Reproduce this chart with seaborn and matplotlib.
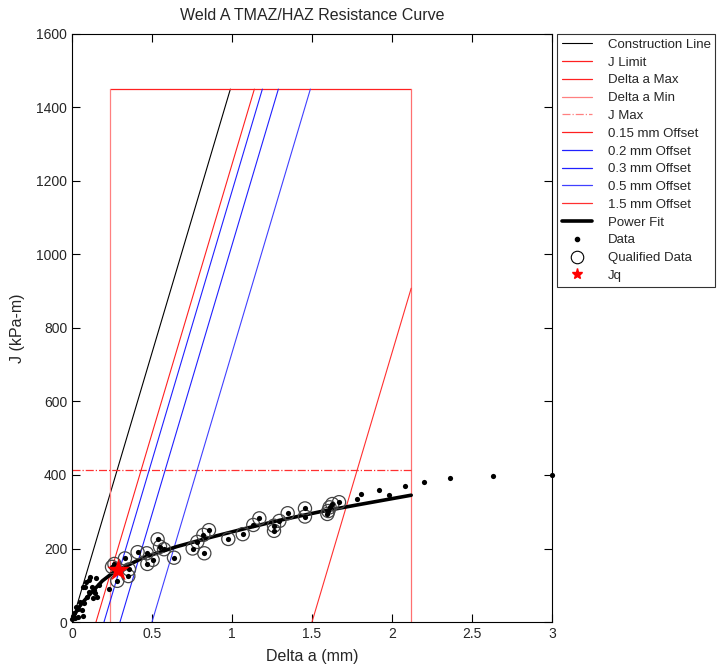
import numpy as np
import pandas as pd
import seaborn as sns
import matplotlib
matplotlib.use('Agg')
import matplotlib.pyplot as plt
from matplotlib.lines import Line2D

# test parameters
j_limit = 1450.0        # J limit (kPa-m)
j_max = 414.0           # J max (kPa-m)
da_min = 0.24           # delta a min (mm)
da_max = 2.12           # delta a max (mm)
constr_slope = 1465.0   # slope of construction line (kPa-m / mm)
offsets = [0.15, 0.2, 0.3, 0.5, 1.5]
offset_colors = ['#ff2020', '#2020ff', '#2020ff', '#4040ff', '#ff3030']

# all measured points
data_da = [0.0, 0.008, 0.019, 0.025, 0.04, 0.05, 0.06, 0.067, 0.071, 0.075, 0.0875,
           0.092, 0.108, 0.1125, 0.123, 0.129, 0.144, 0.15, 0.158, 0.171, 0.233,
           0.015, 0.035, 0.083, 0.104, 0.14,
           1.779, 1.806, 1.921, 1.983, 2.081, 2.198, 2.364, 2.633, 2.998]
data_j = [7, 16, 10, 42, 35, 55, 33, 94, 16, 51, 110,
          69, 82, 123, 96, 64, 78, 119, 69, 101, 89,
          24, 13, 96, 114, 87,
          334, 347, 360, 345, 371, 382, 391, 397, 399]

# qualified points (also data)
qual_da = [0.25, 0.265, 0.283, 0.331, 0.352, 0.356, 0.41, 0.467, 0.471, 0.504, 0.535,
           0.55, 0.575, 0.6375, 0.754, 0.783, 0.821, 0.827, 0.856, 0.977, 1.067,
           1.133, 1.171, 1.2625, 1.2625, 1.296, 1.348, 1.456, 1.456, 1.602, 1.596,
           1.627, 1.669, 1.61]
qual_j = [150, 158, 112, 173, 125, 143, 190, 187, 158, 169, 225,
          205, 198, 175, 200, 218, 237, 187, 250, 226, 239,
          264, 282, 262, 248, 275, 296, 309, 287, 302, 294,
          321, 326, 312]

# power fit curve
fit_da = [0.005, 0.015, 0.04, 0.07, 0.13, 0.19, 0.25, 0.3, 0.45, 0.654, 0.8625,
          1.07, 1.279, 1.55, 1.8, 2.12]
fit_j = [8, 19, 38, 55, 84, 112, 132, 144, 176, 205, 230, 253, 275, 300, 320, 345]

jq_da = [0.29]
jq_j = [141.5]

sns.set_style('ticks')
plt.rcParams['font.family'] = ['Liberation Sans', 'DejaVu Sans']

fig = plt.figure(figsize=(7.22, 6.68), dpi=100)
ax = fig.add_axes([72 / 722, 1 - 622 / 668, 480 / 722, 588 / 668])

# construction line and offset lines, clipped to the J limit / delta a max box
x_top = j_limit / constr_slope
ax.plot([0, x_top], [0, j_limit], color='black', lw=0.8, label='Construction Line')
ax.plot([da_min, da_max], [j_limit, j_limit], color='#ff2020', lw=0.9, label='J Limit')
ax.plot([da_max, da_max], [0, j_limit], color='#ff7070', lw=0.9, label='Delta a Max')
ax.plot([da_min, da_min], [0, j_limit], color='#ff8080', lw=0.9, label='Delta a Min')
ax.plot([0, da_max], [j_max, j_max], color='#ff3030', lw=0.9, ls='-.', label='J Max')
for off, col in zip(offsets, offset_colors):
    x_end = min(off + x_top, da_max)
    ax.plot([off, x_end], [0, constr_slope * (x_end - off)], color=col, lw=0.8,
            label='%g mm Offset' % off)

# power fit
fitdf = pd.DataFrame({'da': fit_da, 'j': fit_j})
sns.lineplot(data=fitdf, x='da', y='j', color='black', lw=2.6, ax=ax, sort=False)

# data points
alldf = pd.DataFrame({'da': data_da + qual_da, 'j': data_j + qual_j})
sns.scatterplot(data=alldf, x='da', y='j', color='black', s=14, linewidth=0,
                ax=ax, zorder=5, clip_on=False)
qdf = pd.DataFrame({'da': qual_da, 'j': qual_j})
sns.scatterplot(data=qdf, x='da', y='j', facecolor='none', edgecolor='#444444',
                s=90, linewidth=0.9, ax=ax, zorder=4)
jqdf = pd.DataFrame({'da': jq_da, 'j': jq_j})
sns.scatterplot(data=jqdf, x='da', y='j', marker='*', color='red', s=300,
                linewidth=0, ax=ax, zorder=6)

ax.set_xlim(0, 3)
ax.set_ylim(0, 1600)
ax.set_xticks(np.arange(0, 3.01, 0.5))
ax.set_xticklabels(['0', '0.5', '1', '1.5', '2', '2.5', '3'])
ax.set_yticks(np.arange(0, 1601, 200))
ax.tick_params(direction='in', length=6, top=True, right=True, labelsize=10,
               color='black', width=0.8)
for sp in ax.spines.values():
    sp.set_visible(True)
    sp.set_color('black')
    sp.set_linewidth(0.8)
ax.set_xlabel('Delta a (mm)', fontsize=11.5, labelpad=6)
ax.set_ylabel('J (kPa-m)', fontsize=11.5, labelpad=8)
ax.set_title('Weld A TMAZ/HAZ Resistance Curve', fontsize=11.5, pad=10)

# legend in the same order as the reference
handles = [
    Line2D([], [], color='black', lw=0.8),
    Line2D([], [], color='#ff2020', lw=0.9),
    Line2D([], [], color='#ff2020', lw=0.9),
    Line2D([], [], color='#ff8080', lw=0.9),
    Line2D([], [], color='#ff8080', lw=0.9, ls='-.'),
]
handles += [Line2D([], [], color=c, lw=0.9) for c in offset_colors]
handles += [
    Line2D([], [], color='black', lw=2.6),
    Line2D([], [], color='black', marker='.', ls='none', ms=6),
    Line2D([], [], markeredgecolor='black', markerfacecolor='none', marker='o',
           ls='none', ms=9, mew=0.8),
    Line2D([], [], color='red', marker='*', ls='none', ms=8),
]
labels = ['Construction Line', 'J Limit', 'Delta a Max', 'Delta a Min', 'J Max'] + \
         ['%g mm Offset' % o for o in offsets] + ['Power Fit', 'Data', 'Qualified Data', 'Jq']
if ax.get_legend() is not None:
    ax.get_legend().remove()
leg = fig.legend(handles, labels, loc='upper left',
                 bbox_to_anchor=(557 / 722, 1 - 34 / 668), fontsize=9.5,
                 frameon=True, fancybox=False, handlelength=2.3, handletextpad=1.2,
                 labelspacing=0.42, borderpad=0.35, borderaxespad=0)
leg.get_frame().set_edgecolor('black')
leg.get_frame().set_linewidth(0.8)

fig.savefig('out.png', dpi=100)
